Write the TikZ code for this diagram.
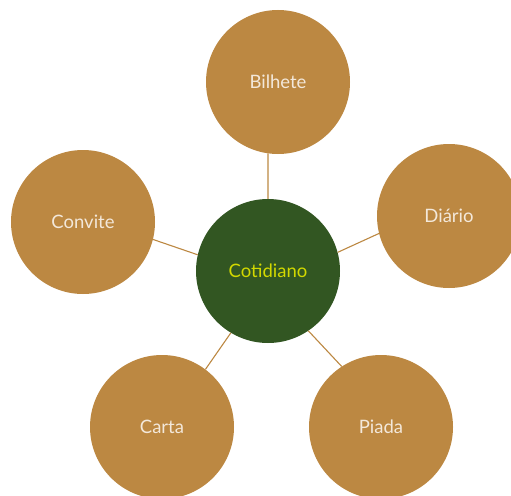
\documentclass[tikz,border=0pt]{standalone}
\usepackage{fontspec}
\setmainfont{Lato}
\definecolor{brownc}{HTML}{BC8842}
\definecolor{greenc}{HTML}{325622}
\definecolor{cream}{HTML}{F3E8DA}
\definecolor{yel}{HTML}{D2D800}
\tikzset{
  outer/.style={circle, fill=brownc, minimum size=144pt, inner sep=0pt, text=cream, font=\fontsize{18.5}{21}\selectfont},
  center/.style={circle, fill=greenc, minimum size=144pt, inner sep=0pt, text=yel, font=\fontsize{18.5}{21}\selectfont},
  link/.style={draw=brownc, line width=1.1pt}
}
\begin{document}
\begin{tikzpicture}[x=1pt,y=-1pt]
\useasboundingbox (0,0) rectangle (511,495);
\clip (0,0) rectangle (511,495);
\node[center] (c) at (268,271) {Cotidiano};
\node[outer] (bil) at (278,82) {Bilhete};
\node[outer] (dia) at (449,216) {Diário};
\node[outer] (con) at (83,222) {Convite};
\node[outer] (car) at (162,427) {Carta};
\node[outer] (pia) at (381,427) {Piada};
\draw[link] (c.90) -- (bil.262);
\draw[link] (c.15) -- (dia.194.5);
\draw[link] (c.167.5) -- (con.-14.5);
\draw[link] (c.239.6) -- (car.53);
\draw[link] (c.-56.8) -- (pia.123.7);
\end{tikzpicture}
\end{document}
